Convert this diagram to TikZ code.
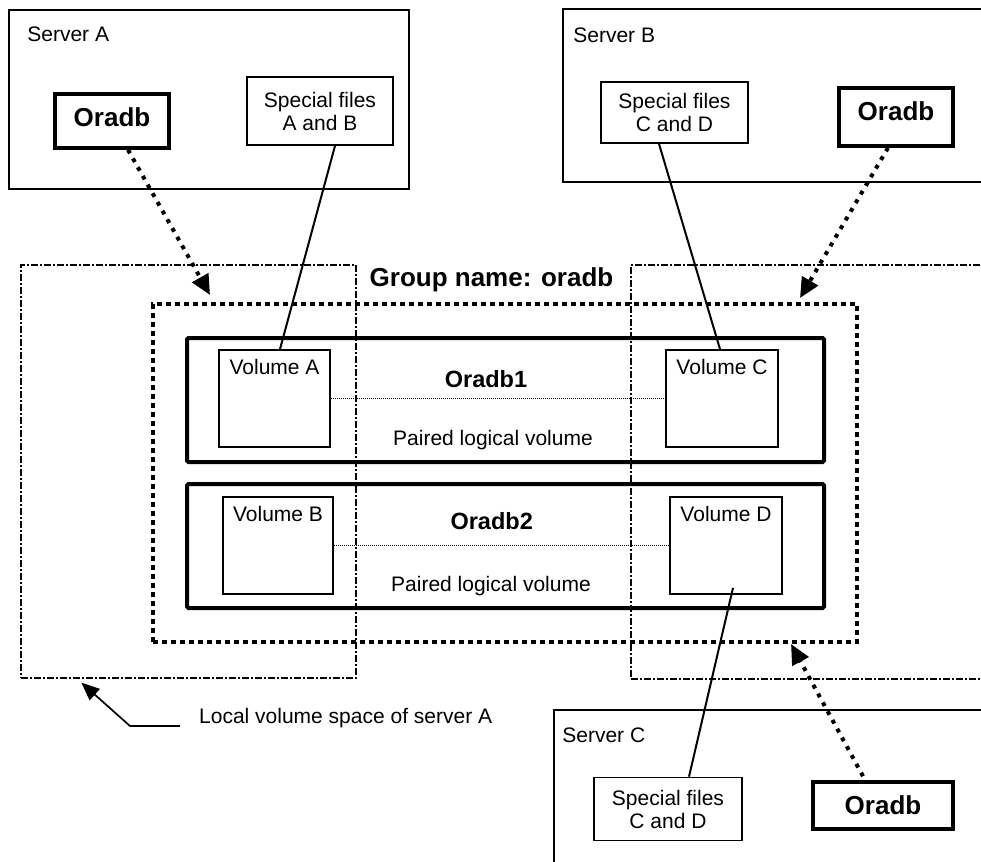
\documentclass[tikz,border=0pt]{standalone}
\usepackage{fontspec}
\setmainfont{Liberation Sans}
\usepackage{tikz}
\usetikzlibrary{positioning,arrows.meta}

\newcommand{\normtext}{\fontsize{21}{23}\selectfont}
\newcommand{\dbtext}{\fontsize{26}{30}\selectfont\bfseries}
\newcommand{\pairtext}{\fontsize{23.5}{27}\selectfont\bfseries}

\tikzstyle{box} = [draw, rectangle, line width=1.7pt, inner sep=2pt, font=\normtext, align=center]
\tikzstyle{dbbox} = [draw, rectangle, line width=3.6pt, inner sep=2pt, font=\dbtext]
\tikzstyle{pairbox} = [draw, rectangle, line width=4pt, rounded corners=1.5pt, minimum width=637pt, minimum height=124pt]
\tikzstyle{volbox} = [draw, rectangle, line width=1.7pt, minimum height=97pt]
\tikzstyle{volspace} = [draw, rectangle, line width=1.3pt, dash pattern=on 7pt off 2pt on 2pt off 2pt]
\tikzstyle{grpbox} = [draw, rectangle, line width=4pt, dash pattern=on 5pt off 4pt]
\tikzstyle{txt} = [inner sep=2pt, font=\normtext]
\tikzstyle{link} = [line width=2pt]
\tikzstyle{pairline} = [line width=0.8pt, dash pattern=on 1pt off 1pt]
\tikzstyle{access} = [line width=4pt, dash pattern=on 4pt off 6pt, -{Triangle[length=20pt,width=18pt]}]

\begin{document}
\begin{tikzpicture}[x=1pt, y=-1pt]
\useasboundingbox (0,0) rectangle (981,861);
\clip (0,0) rectangle (981,861);

% Place nodes
\node [volspace, minimum width=335pt, minimum height=413pt] (spaceA) at (188.5,471.5) {};
\node [volspace, minimum width=364pt, minimum height=414pt] (spaceB) at (813,472) {};
\node [grpbox, minimum width=704pt, minimum height=338pt] (grp) at (505,473) {};
\node [txt, font=\dbtext] (grpname) at (491.5,280) {Group name: oradb};

\node [pairbox] (pair1) at (505.5,400) {};
\node [pairbox] (pair2) at (505.5,546) {};
\node [volbox, minimum width=111pt] (volA) at (274.5,398.5) {};
\node [volbox, minimum width=112pt] (volC) at (722,398.5) {};
\node [volbox, minimum width=110pt] (volB) at (278,545.5) {};
\node [volbox, minimum width=112pt] (volD) at (726,545.5) {};
\node [txt, below=8pt of volA.north] (volAname) {Volume A};
\node [txt, below=8pt of volC.north] (volCname) {Volume C};
\node [txt, below=8pt of volB.north] (volBname) {Volume B};
\node [txt, below=8pt of volD.north] (volDname) {Volume D};
\node [txt, font=\pairtext] (pair1name) at (486,379.5) {Oradb1};
\node [txt] (pair1desc) at (493,439.6) {Paired logical volume};
\node [txt, font=\pairtext] (pair2name) at (491.7,521) {Oradb2};
\node [txt] (pair2desc) at (491,586) {Paired logical volume};

\node [box, minimum width=400pt, minimum height=179pt] (srvA) at (209,99.5) {};
\node [txt, below right=15pt and 17pt of srvA.north west] (srvAname) {Server A};
\node [dbbox, minimum width=114pt, minimum height=54pt, text depth=8pt] (oraA) at (112,121) {Oradb};
\node [box, minimum width=146pt, minimum height=68pt] (filesAB) at (320,111) {Special files\\A and B};

\node [box, minimum width=432pt, minimum height=173pt] (srvB) at (779,95.5) {};
\node [txt, below right=17pt and 9pt of srvB.north west] (srvBname) {Server B};
\node [box, minimum width=147pt, minimum height=61pt] (filesCDb) at (674.5,112.5) {Special files\\C and D};
\node [dbbox, minimum width=114pt, minimum height=58pt, text depth=12pt] (oraB) at (896,117) {Oradb};

\node [box, minimum width=441pt, minimum height=165pt] (srvC) at (774.5,792.5) {};
\node [txt, below right=16pt and 7pt of srvC.north west] (srvCname) {Server C};
\node [box, minimum width=148pt, minimum height=63pt] (filesCDc) at (668,809) {Special files\\C and D};
\node [dbbox, minimum width=140pt, minimum height=47pt] (oraC) at (883,805.5) {Oradb};

\node [txt, anchor=west] (spaceAname) at (197,717.6) {Local volume space of server A};

% Place lines
\coordinate (grpA) at ([xshift=59pt,yshift=7pt]grp.north west);
\coordinate (grpB) at ([xshift=-59pt,yshift=4pt]grp.north east);
\coordinate (grpC) at ([xshift=-68pt]grp.south east);
\draw [access] ([xshift=16pt]oraA.south) -- (grpA);
\draw [access] ([xshift=-8pt]oraB.south) -- (grpB);
\draw [access] ([xshift=-20pt,yshift=4pt]oraC.north) -- (grpC);

\draw [link] ([xshift=15pt]filesAB.south) -- ([xshift=5.5pt]volA.north);
\draw [link] ([xshift=-15.5pt]filesCDb.south) -- ([xshift=-2pt]volC.north);
\draw [link] ([xshift=7pt,yshift=7pt]volD.south) -- ([xshift=21pt]filesCDc.north);

\draw [pairline] (volA.east) -- (volC.west);
\draw [pairline] (volB.east) -- (volD.west);

\draw [link, line width=1.7pt, -{Triangle[length=18pt,width=15pt]}] ([xshift=-17pt,yshift=-8.4pt]spaceAname.west) -- ++(-50,0) -- ([xshift=61pt,yshift=-4pt]spaceA.south west);

\end{tikzpicture}
\end{document}
